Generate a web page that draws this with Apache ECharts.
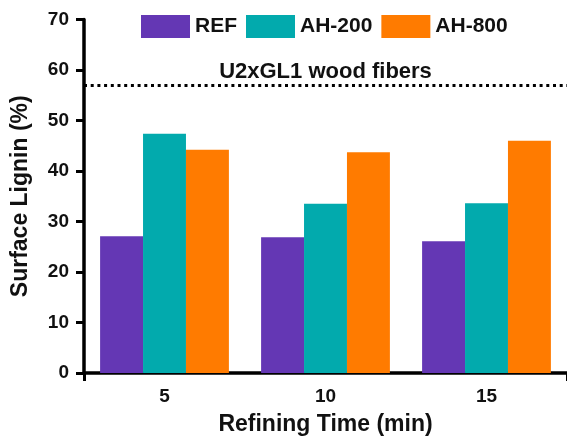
<!DOCTYPE html>
<html>
<head>
<meta charset="utf-8">
<script src="https://cdn.jsdelivr.net/npm/echarts@6/dist/echarts.min.js"></script>
<style>
html,body{margin:0;padding:0;background:#fff;}
#c{width:567px;height:441px;}
</style>
</head>
<body>
<div id="c"></div>
<script>
var categories = ['5', '10', '15'];
var refValues = [27.1, 26.9, 26.1];
var ah200Values = [47.4, 33.5, 33.6];
var ah800Values = [44.2, 43.7, 46.0];
var referenceLevel = 56.9;
var referenceLabel = 'U2xGL1 wood fibers';
var yTicks = [0, 10, 20, 30, 40, 50, 60, 70];

var FONT = '"Liberation Sans", Arial, Helvetica, sans-serif';
var chart = echarts.init(document.getElementById('c'), null, {renderer: 'canvas'});
chart.setOption({
  animation: false,
  backgroundColor: '#ffffff',
  textStyle: {fontFamily: FONT},
  legend: {
    left: 136, top: 10,
    itemWidth: 49, itemHeight: 23, itemGap: 9,
    icon: 'rect',
    textStyle: {fontFamily: FONT, fontWeight: 'bold', fontSize: 21, color: '#111'},
    data: ['REF', 'AH-200', 'AH-800']
  },
  grid: {left: 84, right: 0, top: 19.5, bottom: 67, containLabel: false},
  xAxis: [{
    type: 'category',
    data: categories,
    name: 'Refining Time (min)',
    nameLocation: 'middle',
    nameGap: 40,
    nameTextStyle: {fontFamily: FONT, fontWeight: 'bold', fontSize: 23, color: '#111'},
    axisLine: {lineStyle: {color: '#000', width: 3.5}},
    axisTick: {alignWithLabel: true, length: 8, lineStyle: {color: '#000', width: 3}},
    axisLabel: {margin: 14, fontFamily: FONT, fontWeight: 'bold', fontSize: 19, color: '#111'}
  }, {
    type: 'value', position: 'bottom', min: 0, max: 1, interval: 1,
    axisLine: {show: false},
    axisTick: {show: true, length: 8, lineStyle: {color: '#000', width: 3}},
    axisLabel: {show: false},
    splitLine: {show: false}
  }],
  yAxis: {
    type: 'value',
    min: yTicks[0], max: yTicks[yTicks.length - 1], interval: 10,
    name: 'Surface Lignin (%)',
    nameLocation: 'middle',
    nameGap: 52,
    nameTextStyle: {fontFamily: FONT, fontWeight: 'bold', fontSize: 23, color: '#111'},
    axisLine: {show: true, lineStyle: {color: '#000', width: 3.5}},
    axisTick: {show: true, length: 8, lineStyle: {color: '#000', width: 3}},
    axisLabel: {margin: 15, fontFamily: FONT, fontWeight: 'bold', fontSize: 19, color: '#111'},
    splitLine: {show: false}
  },
  series: [{
    name: 'REF', type: 'bar', data: refValues,
    barGap: 0, barCategoryGap: '20%',
    itemStyle: {color: '#6437b4'},
    markLine: {
      silent: true, symbol: 'none',
      lineStyle: {color: '#000', width: 3, type: [3, 3.7]},
      label: {show: true, position: 'insideMiddleTop', distance: 3, formatter: referenceLabel,
        fontFamily: FONT, fontWeight: 'bold', fontSize: 22, color: '#111'},
      data: [{yAxis: referenceLevel}]
    }
  }, {
    name: 'AH-200', type: 'bar', data: ah200Values,
    barGap: 0, barCategoryGap: '20%',
    itemStyle: {color: '#02aaad'}
  }, {
    name: 'AH-800', type: 'bar', data: ah800Values,
    barGap: 0, barCategoryGap: '20%',
    itemStyle: {color: '#ff7b00'}
  }]
});
</script>
</body>
</html>
